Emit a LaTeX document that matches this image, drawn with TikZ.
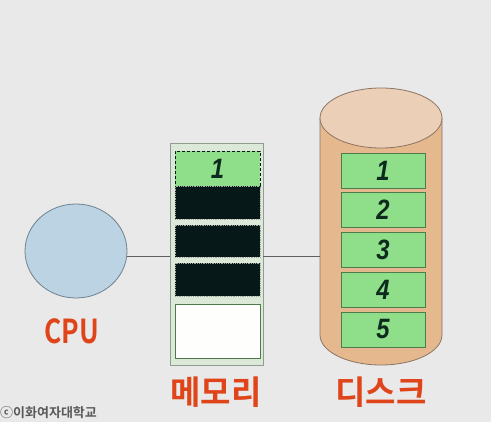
\documentclass[tikz,border=0pt]{standalone}
\usepackage{fontspec}
\usetikzlibrary{shapes.geometric}
\newfontfamily\kr{Noto Sans CJK KR Bold}
\newfontfamily\numf{Liberation Sans}
\definecolor{bg}{HTML}{E9E9E9}
\definecolor{cpufill}{HTML}{BCD3E3}
\definecolor{cpuline}{HTML}{6E8290}
\definecolor{memfill}{HTML}{DCE8D8}
\definecolor{memline}{HTML}{8E9E8E}
\definecolor{slotgreen}{HTML}{8EDE8A}
\definecolor{slotline}{HTML}{4E7A4E}
\definecolor{darkslot}{HTML}{061818}
\definecolor{diskbody}{HTML}{E5B88E}
\definecolor{disktop}{HTML}{EBCFB7}
\definecolor{diskline}{HTML}{8C7462}
\definecolor{lab}{HTML}{E0441A}
\definecolor{numc}{HTML}{0E2A1E}
\tikzset{
  lbl/.style={text=lab, font=\kr\fontsize{33}{33}\selectfont, inner sep=0pt},
  numtxt/.style={text=numc, font=\numf\bfseries\itshape\fontsize{28}{28}\selectfont, xscale=0.85},
  greenslot/.style={draw=slotline, fill=slotgreen, line width=0.6pt},
  memgreen/.style={draw=darkslot, fill=slotgreen, densely dashed, line width=0.8pt},
  darkbox/.style={draw=gray!70, fill=darkslot, densely dotted, line width=0.8pt},
  emptybox/.style={draw=slotline, fill=white!96!memfill, line width=0.8pt},
  link/.style={draw=gray!75!black, line width=0.8pt}
}
\begin{document}
\begin{tikzpicture}[x=1pt,y=-1pt]
\fill[bg] (0,0) rectangle (491,422);
\useasboundingbox (0,0) rectangle (491,422);

% CPU
\node[ellipse, draw=cpuline, fill=cpufill, line width=0.8pt, minimum width=102pt, minimum height=94pt, inner sep=0pt] (cpu) at (76,251) {};
\node[lbl, xscale=0.8] (cpulab) at (72,331) {CPU};

% Memory
\node[draw=memline, fill=memfill, line width=0.8pt, minimum width=93pt, minimum height=222pt, inner sep=0pt] (mem) at (216.5,254) {};
\node[memgreen, minimum width=85pt, minimum height=35pt, inner sep=0pt] (m1) at (217.5,168.5) {};
\node[numtxt] at (m1) {1};
\node[darkbox, minimum width=85pt, minimum height=33pt, inner sep=0pt] (m2) at (217.5,203) {};
\node[darkbox, minimum width=85pt, minimum height=32pt, inner sep=0pt] (m3) at (217.5,241) {};
\node[darkbox, minimum width=85pt, minimum height=33pt, inner sep=0pt] (m4) at (217.5,279.5) {};
\node[emptybox, minimum width=85pt, minimum height=54pt, inner sep=0pt] (m5) at (217.5,331) {};
\node[lbl] (memlab) at (216,392) {메모리};

% Disk
\coordinate (dtop) at (381,118);
\coordinate (dbot) at (381,335);
\fill[diskbody] (320,118) -- (320,335) arc[start angle=180,end angle=0,x radius=61,y radius=30] -- (442,118) -- cycle;
\draw[diskline, line width=0.8pt] (320,118) -- (320,335) arc[start angle=180,end angle=0,x radius=61,y radius=30] -- (442,118);
\node[ellipse, draw=diskline, fill=disktop, line width=0.8pt, minimum width=122pt, minimum height=60pt, inner sep=0pt] (disk) at (dtop) {};
\foreach \i/\y in {1/170.5,2/210,3/249.5,4/289.5,5/329.5}{
  \node[greenslot, minimum width=84pt, minimum height=35pt, inner sep=0pt] (d\i) at (383,\y) {};
  \node[numtxt] at (d\i) {\i};
}
\node[lbl] (disklab) at (381,392) {디스크};

% connectors
\coordinate (memL) at (170,256);
\coordinate (memR) at (263,256);
\coordinate (diskL) at (320,256);
\draw[link] (cpu.east |- 0,256) -- (memL);
\draw[link] (memR) -- (diskL);

% watermark
\node[text=gray!70!black, font=\kr\fontsize{13}{13}\selectfont, anchor=west, inner sep=0pt] (wm) at (0,413) {ⓒ이화여자대학교};
\end{tikzpicture}
\end{document}
